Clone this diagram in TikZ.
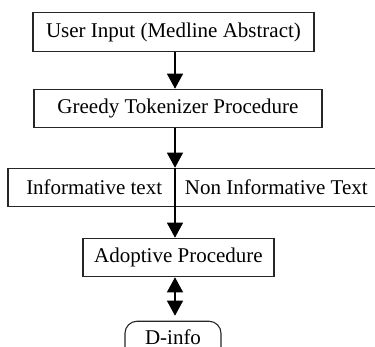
\documentclass[tikz,border=0pt]{standalone}
\usepackage{fontspec}
\setmainfont{Liberation Serif}
\usetikzlibrary{arrows.meta}

\begin{document}
\begin{tikzpicture}[x=1pt, y=-1pt, line width=1.1pt,
  box/.style={draw=black!85, rectangle, minimum height=38.5pt, inner sep=0pt,
    font=\fontsize{21}{24}\selectfont}]
\useasboundingbox (0,0) rectangle (375,347);
\clip (0,0) rectangle (375,347);
\coordinate (spine) at (175,0);
\node[box, minimum width=281] (input) at (173.5,32) {User Input (Medline Abstract)};
\node[box, minimum width=288] (tokenizer) at (178,108.5) {Greedy Tokenizer Procedure};
\node[box, minimum width=380] (split) at (198,187.5) {};
\node[font=\fontsize{21}{24}\selectfont, anchor=east] (info) at (166,187.5) {Informative text};
\node[font=\fontsize{21}{24}\selectfont, anchor=west] (noninfo) at (181,187.5) {Non Informative Text};
\node[box, minimum width=191] (adoptive) at (178.5,257.5) {Adoptive Procedure};
\node[box, rounded corners=12pt, minimum width=96, text depth=6pt] (dinfo) at (173,340.5) {D-info};
\draw [->, >={Triangle[length=15pt,width=16pt]}] (input.south -| spine)--(tokenizer.north -| spine);
\draw [->, >={Triangle[length=15pt,width=16pt]}] (tokenizer.south -| spine)--(split.north -| spine);
\draw [->, >={Triangle[length=15pt,width=16pt]}] (split.north -| spine)--(adoptive.north -| spine);
% two-way link to D-info
\draw [<->, >={Triangle[length=15pt,width=16pt]}, shorten >=5pt] (adoptive.south -| spine)--(dinfo.north -| spine);
\end{tikzpicture}
\end{document}
